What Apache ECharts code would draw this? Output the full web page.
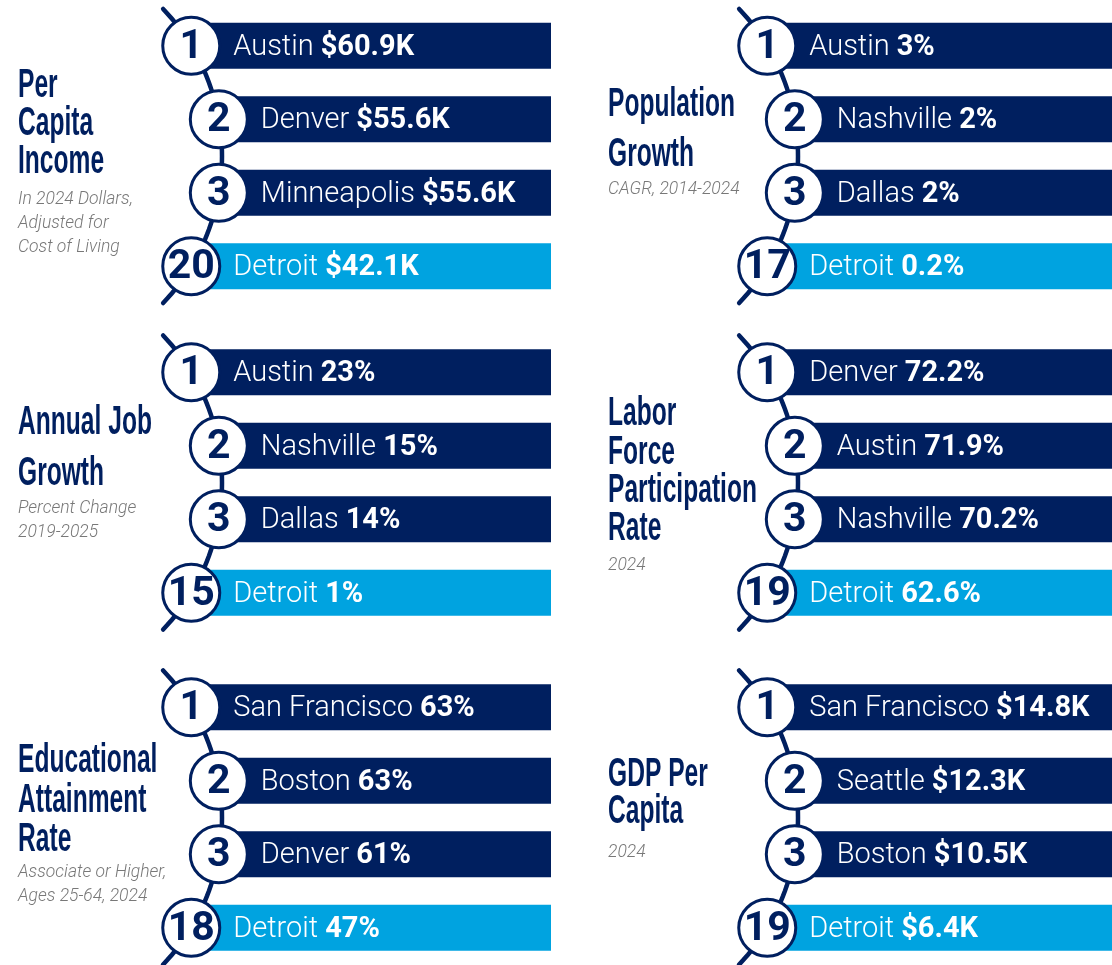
<!DOCTYPE html>
<html>
<head>
<meta charset="utf-8">
<script src="https://cdn.jsdelivr.net/npm/echarts@6/dist/echarts.min.js"></script>
<style>
  html, body { margin: 0; padding: 0; background: #fff; }
  #chart { width: 1112px; height: 965px; }
</style>
</head>
<body>
<div id="chart"></div>
<script>
// panels in reading order: left, right, left, right, left, right
const titleLines = [
  ['Per', 'Capita', 'Income'],
  ['Population', 'Growth'],
  ['Annual Job', 'Growth'],
  ['Labor', 'Force', 'Participation', 'Rate'],
  ['Educational', 'Attainment', 'Rate'],
  ['GDP Per', 'Capita']
]
const noteLines = [
  ['In 2024 Dollars,', 'Adjusted for', 'Cost of Living'],
  ['CAGR, 2014-2024'],
  ['Percent Change', '2019-2025'],
  ['2024'],
  ['Associate or Higher,', 'Ages 25-64, 2024'],
  ['2024']
]
const cityNames = [
  ['Austin', 'Denver', 'Minneapolis', 'Detroit'],
  ['Austin', 'Nashville', 'Dallas', 'Detroit'],
  ['Austin', 'Nashville', 'Dallas', 'Detroit'],
  ['Denver', 'Austin', 'Nashville', 'Detroit'],
  ['San Francisco', 'Boston', 'Denver', 'Detroit'],
  ['San Francisco', 'Seattle', 'Boston', 'Detroit']
]
const rankNumbers = [
  [1, 2, 3, 20],
  [1, 2, 3, 17],
  [1, 2, 3, 15],
  [1, 2, 3, 19],
  [1, 2, 3, 18],
  [1, 2, 3, 19]
]
const metricValues = [
  [60.9, 55.6, 55.6, 42.1],
  [3, 2, 2, 0.2],
  [23, 15, 14, 1],
  [72.2, 71.9, 70.2, 62.6],
  [63, 63, 61, 47],
  [14.8, 12.3, 10.5, 6.4]
]
const valuePrefix = ['$', '', '', '', '', '$']
const valueSuffix = ['K', '%', '%', '%', '%', 'K']

const NAVY = '#001f5f'
const SKY = '#00a3e0'
const GREY = '#787878'

// layout
const gridTops = [9, 335.5, 670.5]
const colLeft = [150, 726]
const colRight = [561, 0]
const titleX = [18, 608]
const titleLayout = [
  { y: 85.5, lh: 38.3, noteY: 199.5 },
  { y: 104.5, lh: 50.5, noteY: 190 },
  { y: 423, lh: 51, noteY: 508.5 },
  { y: 414, lh: 38.3, noteY: 565.5 },
  { y: 761, lh: 39.2, noteY: 872.5 },
  { y: 775, lh: 37, noteY: 852.5 }
]

const ARC_R = 213
const ARC_OFFSET = 141

function fmt(i, v) {
  return valuePrefix[i] + v + valueSuffix[i]
}

function makeRender(panel) {
  return function (params, api) {
    const row = api.value(1)
    const end = api.coord([api.value(0), row])
    const yc = end[1]
    const band = api.size([0, 1])[1]
    const cs = params.coordSys
    const midY = cs.y + cs.height / 2
    const arcCx = cs.x - ARC_OFFSET
    const cx = arcCx + Math.sqrt(ARC_R * ARC_R - (yc - midY) * (yc - midY))
    const barH = band * 0.626
    const children = []

    if (params.dataIndex === 0) {
      const pts = []
      for (let k = 0; k <= 60; k++) {
        const y = cs.y + (cs.height * k) / 60
        pts.push([arcCx + Math.sqrt(ARC_R * ARC_R - (y - midY) * (y - midY)), y])
      }
      children.push({
        type: 'polyline',
        shape: { points: pts },
        style: { stroke: NAVY, lineWidth: 4.5, fill: null, lineCap: 'round' },
        z2: 0
      })
    }

    children.push({
      type: 'rect',
      shape: { x: cx, y: yc - barH / 2, width: end[0] - cx, height: barH },
      style: { fill: row === 3 ? SKY : NAVY },
      z2: 1
    })
    children.push({
      type: 'circle',
      shape: { cx: cx, cy: yc, r: 28.5 },
      style: { fill: '#fff', stroke: NAVY, lineWidth: 3 },
      z2: 2
    })
    children.push({
      type: 'text',
      x: cx,
      y: yc + 1.5,
      style: {
        text: String(rankNumbers[panel][row]),
        font: 'bold 41px Roboto, "Liberation Sans", sans-serif',
        fill: NAVY,
        align: 'center',
        verticalAlign: 'middle'
      },
      z2: 3
    })
    children.push({
      type: 'text',
      x: cx + 42,
      y: yc + 1.5,
      style: {
        text: '{n|' + cityNames[panel][row] + ' }{v|' + fmt(panel, metricValues[panel][row]) + '}',
        verticalAlign: 'middle',
        rich: {
          n: { font: '300 29px Roboto, "Liberation Sans", sans-serif', fill: '#fff' },
          v: { font: 'bold 29px Roboto, "Liberation Sans", sans-serif', fill: '#fff' }
        }
      },
      z2: 3
    })
    return { type: 'group', children: children }
  }
}

const grids = []
const xAxes = []
const yAxes = []
const series = []
const graphics = []

for (let i = 0; i < 6; i++) {
  const col = i % 2
  const r = Math.floor(i / 2)
  grids.push({
    left: colLeft[col],
    right: colRight[col],
    top: gridTops[r],
    height: 294
  })
  xAxes.push({ gridIndex: i, type: 'value', min: 0, max: 1, show: false })
  yAxes.push({ gridIndex: i, type: 'category', data: cityNames[i], inverse: true, show: false })
  series.push({
    type: 'custom',
    xAxisIndex: i,
    yAxisIndex: i,
    renderItem: makeRender(i),
    data: cityNames[i].map((c, k) => [1, k]),
    silent: true
  })

  const tl = titleLayout[i]
  graphics.push({
    type: 'text',
    x: titleX[col],
    y: tl.y - tl.lh / 2,
    scaleX: 0.6,
    style: {
      text: titleLines[i].join('\n'),
      font: 'bold 41px "Liberation Sans Narrow", "Liberation Sans", sans-serif',
      fill: NAVY,
      lineHeight: tl.lh,
      verticalAlign: 'top'
    }
  })
  graphics.push({
    type: 'text',
    x: titleX[col],
    y: tl.noteY - 12,
    style: {
      text: noteLines[i].join('\n'),
      font: 'italic 300 17.5px Roboto, "Liberation Sans", sans-serif',
      fill: GREY,
      lineHeight: 24,
      verticalAlign: 'top'
    }
  })
}

const chart = echarts.init(document.getElementById('chart'))
chart.setOption({
  backgroundColor: '#fff',
  animation: false,
  grid: grids,
  xAxis: xAxes,
  yAxis: yAxes,
  series: series,
  graphic: graphics
})
</script>
</body>
</html>
